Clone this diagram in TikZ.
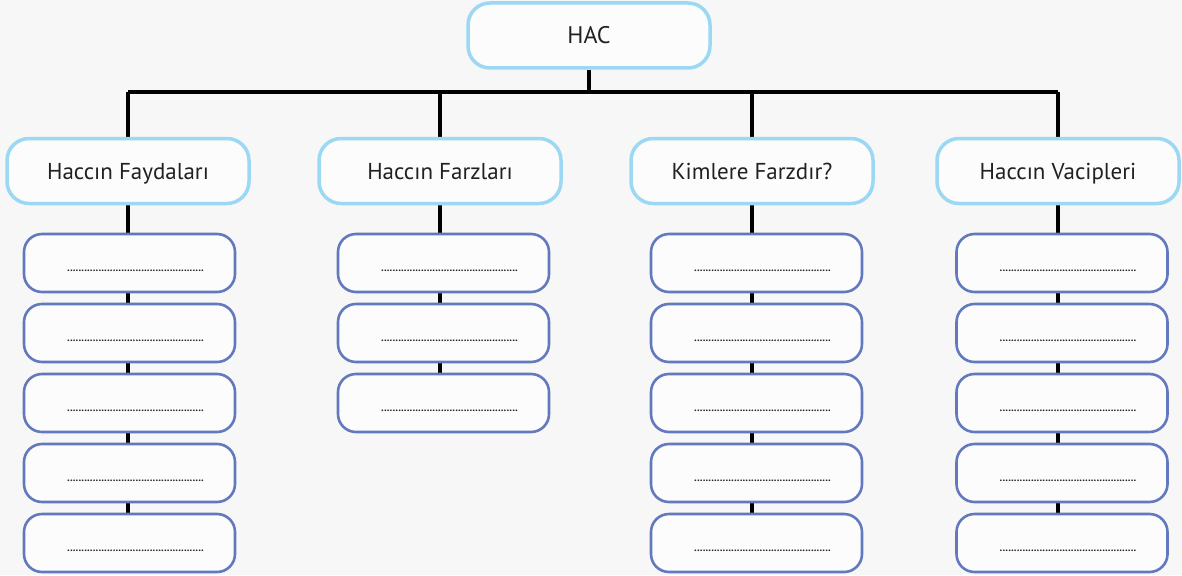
\documentclass[tikz,border=0pt]{standalone}
\usepackage{fontspec}
\setmainfont{PT Sans}
\usetikzlibrary{backgrounds}
\pgfdeclarelayer{canvas}
\pgfdeclarelayer{background}
\pgfsetlayers{canvas,background,main}
\definecolor{bgc}{HTML}{F7F7F7}
\definecolor{topc}{HTML}{9AD8F3}
\definecolor{subc}{HTML}{6279BE}
\tikzset{
  headbox/.style={draw=topc, line width=3.5pt, fill=white!60!bgc, rounded corners=22pt,
    minimum width=242pt, minimum height=65pt, inner sep=0pt, text height=16pt, text depth=0pt,
    font=\fontsize{23}{26}\selectfont, text=black!87},
  subbox/.style={draw=subc, line width=2.6pt, fill=white!60!bgc, rounded corners=18pt,
    minimum width=211pt, minimum height=58pt, inner sep=0pt},
  dots/.style={font=\fontsize{11}{12}\selectfont\bfseries, inner sep=0pt, text=black!85},
  bar/.style={line width=4.7pt, black}
}
\begin{document}
\begin{tikzpicture}[x=1pt,y=-1pt]
\begin{pgfonlayer}{canvas}
\fill[bgc] (0,0) rectangle (1182,575);
\end{pgfonlayer}
\useasboundingbox (0,0) rectangle (1182,575);
\node[headbox, font=\fontsize{24}{27}\selectfont] (hac) at (589,35.5) {HAC};
\node[headbox] (c1) at (128,171) {Haccın Faydaları};
\node[headbox] (c2) at (440,171) {Haccın Farzları};
\node[headbox] (c3) at (752,171) {Kimlere Farzdır?};
\node[headbox] (c4) at (1058,171) {Haccın Vacipleri};
\coordinate (bar) at (0,92);
% sub boxes
\foreach \col/\x/\n in {1/129.5/5,2/443.5/3,3/756.5/5,4/1062/5}{
  \foreach \i in {1,...,\n}{
    \node[subbox] (s\col-\i) at (\x,{263+70*(\i-1)}) {};
    \node[dots] (d\col-\i) at ([xshift=6pt,yshift=-8pt]s\col-\i.center) {\foreach \k in {1,...,48}{.}};
  }
}
\begin{pgfonlayer}{background}
  \draw[bar] (hac.south) -- (hac.south |- bar);
  \draw[bar] (c1.north |- bar) -- (c4.north |- bar);
  \foreach \c in {1,2,3,4}{
    \draw[bar] (c\c.north |- bar) -- (c\c.north);
    \draw[bar] (c\c.south) -- (c\c.south |- s\c-1.north);
  }
  \foreach \c/\n in {1/4,2/2,3/4,4/4}{
    \foreach \i [evaluate=\i as \j using int(\i+1)] in {1,...,\n}{
      \draw[bar] (c\c.south |- s\c-\i.south) -- (c\c.south |- s\c-\j.north);
    }
  }
\end{pgfonlayer}
\end{tikzpicture}
\end{document}
